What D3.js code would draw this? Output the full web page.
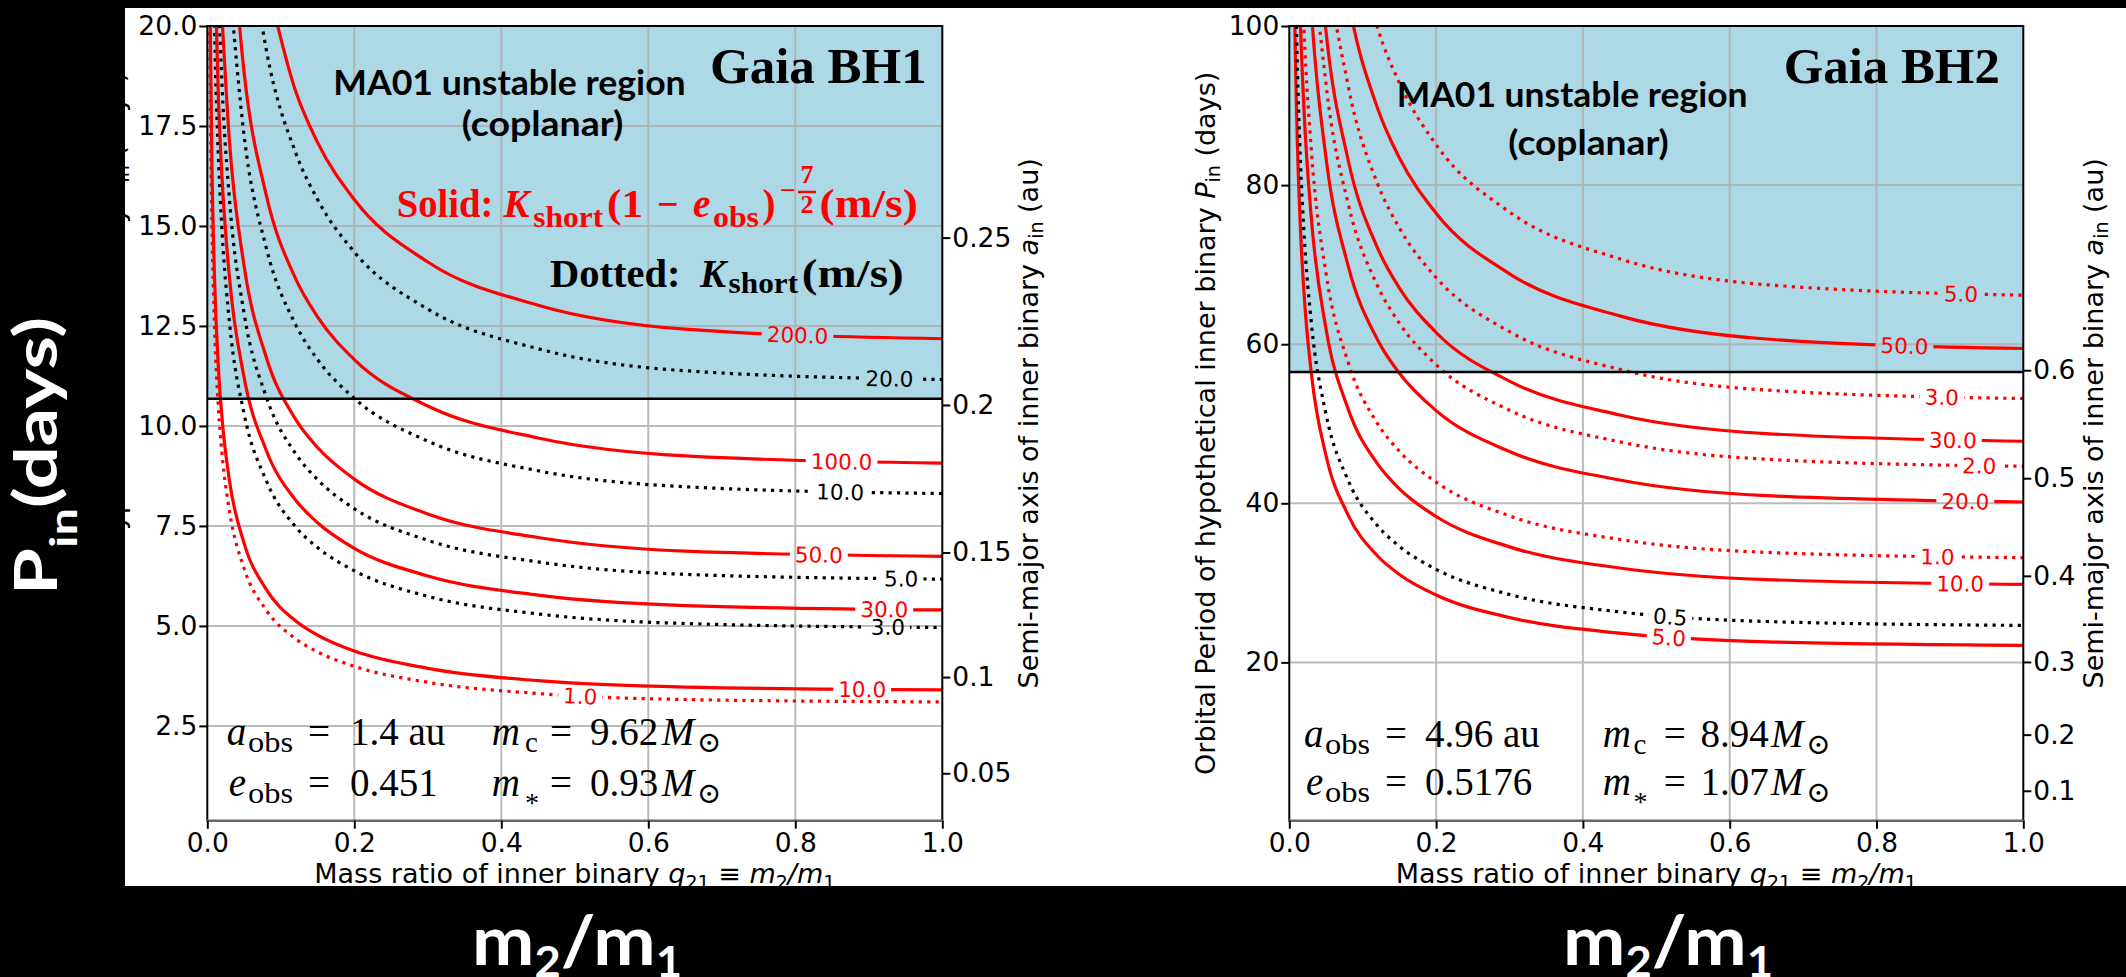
<!DOCTYPE html>
<html>
<head>
<meta charset="utf-8">
<script src="https://cdn.jsdelivr.net/npm/d3@7/dist/d3.min.js"></script>
<style>
  body { margin: 0; background: #000; }
  svg { display: block; }
</style>
</head>
<body>
<svg id="fig" width="2126" height="977"></svg>
<script>
// ---- values ----

// Gaia BH1: mass-ratio grid and P_in (days) along each contour
const bh1Q = [0.003, 0.004, 0.006, 0.01, 0.015, 0.02, 0.03, 0.05, 0.08, 0.12, 0.15, 0.2, 0.3, 0.45, 0.65, 1.0];
const bh1Dot1   = [20.69, 18.30, 15.41, 12.42, 10.48, 9.31, 7.89, 6.44, 5.40, 4.68, 4.35, 3.99, 3.59, 3.31, 3.16, 3.10];
const bh1Sol10  = [null, 20.07, 16.90, 13.62, 11.50, 10.21, 8.65, 7.07, 5.92, 5.13, 4.77, 4.37, 3.94, 3.63, 3.47, 3.40];
const bh1Dot3   = [null, null, 24.66, 19.87, 16.77, 14.89, 12.62, 10.31, 8.64, 7.48, 6.96, 6.38, 5.74, 5.30, 5.06, 4.96];
const bh1Sol30  = [null, null, null, 21.64, 18.26, 16.22, 13.74, 11.22, 9.40, 8.15, 7.58, 6.94, 6.25, 5.77, 5.51, 5.40];
const bh1Dot5   = [null, null, null, null, 20.87, 18.53, 15.70, 12.82, 10.74, 9.31, 8.66, 7.93, 7.14, 6.60, 6.29, 6.17];
const bh1Sol50  = [null, null, null, null, null, 20.24, 17.15, 14.01, 11.73, 10.17, 9.46, 8.67, 7.80, 7.21, 6.87, 6.74];
const bh1Dot10  = [null, null, null, null, null, null, 21.15, 17.27, 14.47, 12.54, 11.66, 10.69, 9.62, 8.88, 8.48, 8.31];
const bh1Sol100 = [null, null, null, null, null, null, 23.08, 18.85, 15.79, 13.69, 12.73, 11.66, 10.50, 9.70, 9.25, 9.07];
const bh1Dot20  = [null, null, null, null, null, null, null, 23.19, 19.43, 16.84, 15.66, 14.35, 12.92, 11.93, 11.38, 11.16];
const bh1Sol200 = [null, null, null, null, null, null, null, null, 21.21, 18.38, 17.09, 15.66, 14.10, 13.02, 12.42, 12.18];

// Gaia BH2
const bh2Q = [0.006, 0.008, 0.01, 0.015, 0.02, 0.03, 0.05, 0.08, 0.12, 0.15, 0.2, 0.3, 0.45, 0.65, 1.0];
const bh2Sol5  = [110.06, 97.46, 88.71, 74.88, 66.49, 56.35, 46.01, 38.55, 33.41, 31.06, 28.47, 25.64, 23.67, 22.58, 22.14];
const bh2Dot05 = [null, 108.51, 98.77, 83.37, 74.02, 62.73, 51.22, 42.92, 37.20, 34.58, 31.70, 28.54, 26.35, 25.14, 24.65];
const bh2Sol10 = [null, null, 119.45, 100.82, 89.52, 75.87, 61.95, 51.90, 44.98, 41.82, 38.34, 34.52, 31.87, 30.41, 29.81];
const bh2Dot1  = [null, null, null, 112.18, 99.61, 84.42, 68.93, 57.75, 50.05, 46.54, 42.66, 38.41, 35.46, 33.83, 33.17];
const bh2Sol20 = [null, null, null, null, 120.60, 102.21, 83.45, 69.92, 60.60, 56.34, 51.65, 46.51, 42.93, 40.96, 40.16];
const bh2Dot2  = [null, null, null, null, 134.08, 113.63, 92.78, 77.74, 67.38, 62.64, 57.42, 51.70, 47.73, 45.54, 44.65];
const bh2Sol30 = [null, null, null, null, 143.54, 121.65, 99.33, 83.22, 72.13, 67.06, 61.47, 55.35, 51.10, 48.76, 47.80];
const bh2Dot3  = [null, null, null, null, null, 135.32, 110.49, 92.57, 80.23, 74.60, 68.38, 61.57, 56.84, 54.23, 53.17];
const bh2Sol50 = [null, null, null, null, null, null, 123.56, 103.52, 89.72, 83.42, 76.47, 68.85, 63.56, 60.65, 59.46];
const bh2Dot5  = [null, null, null, null, null, null, 137.48, 115.19, 99.84, 92.82, 85.08, 76.61, 70.73, 67.48, 66.16];

// MA01 stability boundary (days) and Kepler factor P_in = k * a_in^1.5
const bh1PCrit = 10.68;
const bh2PCrit = 56.5;
const bh1Kepler = 117.67;
const bh2Kepler = 122.06;

// axes
const qTicks = [0, 0.2, 0.4, 0.6, 0.8, 1.0];
const bh1PTicks = [2.5, 5, 7.5, 10, 12.5, 15, 17.5, 20];
const bh2PTicks = [20, 40, 60, 80, 100];
const bh1ATicks = [0.05, 0.1, 0.15, 0.2, 0.25];
const bh2ATicks = [0.1, 0.2, 0.3, 0.4, 0.5, 0.6];

// inline label spots (q) for each contour, same order as the tables below
const bh1LabelQ = [0.5075, 0.891, 0.926, 0.921, 0.944, 0.832, 0.861, 0.863, 0.928, 0.803];
const bh2LabelQ = [0.517, 0.519, 0.914, 0.883, 0.921, 0.940, 0.904, 0.889, 0.838, 0.915];

const bh1Params = ['1.4', '0.451', '9.62', '0.93'];
const bh2Params = ['4.96', '0.5176', '8.94', '1.07'];

const bh1Curves = [
  { label: '1.0', dot: true, red: true, p: bh1Dot1 },
  { label: '10.0', dot: false, red: true, p: bh1Sol10 },
  { label: '3.0', dot: true, red: false, p: bh1Dot3 },
  { label: '30.0', dot: false, red: true, p: bh1Sol30 },
  { label: '5.0', dot: true, red: false, p: bh1Dot5 },
  { label: '50.0', dot: false, red: true, p: bh1Sol50 },
  { label: '10.0', dot: true, red: false, p: bh1Dot10 },
  { label: '100.0', dot: false, red: true, p: bh1Sol100 },
  { label: '20.0', dot: true, red: false, p: bh1Dot20 },
  { label: '200.0', dot: false, red: true, p: bh1Sol200 }
];
const bh2Curves = [
  { label: '5.0', dot: false, red: true, p: bh2Sol5 },
  { label: '0.5', dot: true, red: false, p: bh2Dot05 },
  { label: '10.0', dot: false, red: true, p: bh2Sol10 },
  { label: '1.0', dot: true, red: true, p: bh2Dot1 },
  { label: '20.0', dot: false, red: true, p: bh2Sol20 },
  { label: '2.0', dot: true, red: true, p: bh2Dot2 },
  { label: '30.0', dot: false, red: true, p: bh2Sol30 },
  { label: '3.0', dot: true, red: true, p: bh2Dot3 },
  { label: '50.0', dot: false, red: true, p: bh2Sol50 },
  { label: '5.0', dot: true, red: true, p: bh2Dot5 }
];

// ---- drawing ----
const W = 2126, H = 977;
const svg = d3.select('#fig');
const RED = '#ff0000';
const TICKFONT = '26.5px "DejaVu Sans"';

svg.append('rect').attr('width', W).attr('height', H).attr('fill', '#000');
svg.append('rect').attr('x', 125).attr('y', 8).attr('width', W - 125).attr('height', 878).attr('fill', '#fff');

function put(parent, s, x, y, o = {}) {
  const t = parent.append('text').attr('x', x).attr('y', y).text(s)
    .attr('fill', o.color || '#000')
    .style('font-family', o.family || '"Liberation Serif"')
    .style('font-size', (o.size || 39) + 'px')
    .style('font-weight', o.bold ? 700 : 400)
    .style('font-style', o.italic ? 'italic' : 'normal');
  if (o.w) t.attr('textLength', o.w).attr('lengthAdjust', 'spacingAndGlyphs');
  if (o.anchor) t.attr('text-anchor', o.anchor);
  return t;
}

function pointAtX(node, tx) {
  let lo = 0, hi = node.getTotalLength();
  for (let n = 0; n < 40; n++) {
    const mid = (lo + hi) / 2;
    if (node.getPointAtLength(mid).x < tx) lo = mid; else hi = mid;
  }
  return node.getPointAtLength((lo + hi) / 2);
}

function styleAxis(ax) {
  ax.select('.domain').remove();
  ax.selectAll('.tick line').attr('stroke', '#000').attr('stroke-width', 2);
  ax.selectAll('.tick text').attr('fill', '#000').style('font', TICKFONT);
}

function drawPanel(cfg) {
  const x = d3.scaleLinear().domain([0, 1]).range([cfg.left, cfg.right]);
  const y = d3.scaleLinear().domain(cfg.pDomain).range([cfg.bottom, cfg.top]);
  const aScale = d3.scalePow().exponent(1.5)
    .domain(cfg.pDomain.map(p => Math.pow(p / cfg.kepler, 2 / 3)))
    .range([cfg.bottom, cfg.top]);

  const g = svg.append('g');
  const clipId = 'clip-' + cfg.id;
  g.append('clipPath').attr('id', clipId).append('rect')
    .attr('x', cfg.left).attr('y', cfg.top)
    .attr('width', cfg.right - cfg.left).attr('height', cfg.bottom - cfg.top);

  // MA01 unstable region
  g.append('rect')
    .attr('x', x(0)).attr('y', y(cfg.pDomain[1]))
    .attr('width', x(1) - x(0)).attr('height', y(cfg.pCrit) - y(cfg.pDomain[1]))
    .attr('fill', '#add8e6');

  // grid
  const grid = g.append('g').attr('stroke', '#b0b0b0').attr('stroke-width', 2).attr('opacity', 0.85);
  grid.selectAll('line.gx').data(qTicks.slice(1, -1)).join('line').attr('class', 'gx')
    .attr('x1', d => x(d)).attr('x2', d => x(d)).attr('y1', cfg.top).attr('y2', cfg.bottom);
  grid.selectAll('line.gy').data(cfg.pTicks.filter(d => d < cfg.pDomain[1])).join('line').attr('class', 'gy')
    .attr('y1', d => y(d)).attr('y2', d => y(d)).attr('x1', cfg.left).attr('x2', cfg.right);

  // contours
  const line = d3.line()
    .defined(d => d[1] != null)
    .x(d => x(d[0]))
    .y(d => y(d[1]))
    .curve(d3.curveMonotoneX);
  const cg = g.append('g').attr('clip-path', `url(#${clipId})`);
  const lg = g.append('g');
  const defs = g.append('defs');
  cfg.curves.forEach((c, i) => {
    const color = c.red ? RED : '#000';
    const path = cg.append('path')
      .attr('d', line(cfg.q.map((q, j) => [q, c.p[j]])))
      .attr('fill', 'none')
      .attr('stroke', color)
      .attr('stroke-width', 3.2)
      .attr('stroke-dasharray', c.dot ? '3.2,5.2' : null);

    const lx = x(cfg.labelQ[i]);
    const pt = pointAtX(path.node(), lx);
    const a = pointAtX(path.node(), lx - 14), b = pointAtX(path.node(), lx + 14);
    const ang = Math.atan2(b.y - a.y, b.x - a.x) * 180 / Math.PI;
    const tf = `translate(${pt.x},${pt.y}) rotate(${ang})`;
    const t = lg.append('text').attr('transform', tf)
      .attr('text-anchor', 'middle').attr('dy', '0.36em')
      .attr('fill', color).style('font', '21.5px "DejaVu Sans"')
      .text(c.label);
    const tw = t.node().getComputedTextLength();
    const mid = `mask-${cfg.id}-${i}`;
    const m = defs.append('mask').attr('id', mid).attr('maskUnits', 'userSpaceOnUse')
      .attr('x', 0).attr('y', 0).attr('width', W).attr('height', H);
    m.append('rect').attr('width', W).attr('height', H).attr('fill', '#fff');
    m.append('rect').attr('transform', tf)
      .attr('x', -tw / 2 - 5).attr('y', -11).attr('width', tw + 10).attr('height', 22)
      .attr('fill', '#000');
    path.attr('mask', `url(#${mid})`);
  });
  lg.raise();

  // boundary line
  g.append('line')
    .attr('x1', cfg.left).attr('x2', cfg.right)
    .attr('y1', y(cfg.pCrit)).attr('y2', y(cfg.pCrit))
    .attr('stroke', '#000').attr('stroke-width', 2.6);

  // frame (bottom spine looks grey in the original)
  g.append('path')
    .attr('d', `M${cfg.left},${cfg.bottom}V${cfg.top}H${cfg.right}V${cfg.bottom}`)
    .attr('fill', 'none').attr('stroke', '#000').attr('stroke-width', 2);
  g.append('line')
    .attr('x1', cfg.left - 1).attr('x2', cfg.right + 1).attr('y1', cfg.bottom).attr('y2', cfg.bottom)
    .attr('stroke', '#666').attr('stroke-width', 2.6);

  // axes
  const axB = g.append('g').attr('transform', `translate(0,${cfg.bottom})`)
    .call(d3.axisBottom(x).tickValues(qTicks).tickFormat(d3.format('.1f')).tickSize(8).tickPadding(4.5));
  styleAxis(axB);
  const axL = g.append('g').attr('transform', `translate(${cfg.left},0)`)
    .call(d3.axisLeft(y).tickValues(cfg.pTicks).tickFormat(cfg.pFormat).tickSize(8).tickPadding(2));
  styleAxis(axL);
  const axR = g.append('g').attr('transform', `translate(${cfg.right},0)`)
    .call(d3.axisRight(aScale).tickValues(cfg.aTicks).tickFormat(d => String(d)).tickSize(8).tickPadding(2));
  styleAxis(axR);

  // axis labels
  const cx = (cfg.left + cfg.right) / 2, cy = (cfg.top + cfg.bottom) / 2;
  const xl = g.append('text').attr('x', cx).attr('y', 882.7).attr('text-anchor', 'middle')
    .attr('fill', '#000').style('font', '27px "DejaVu Sans"');
  xl.append('tspan').text('Mass ratio of inner binary ');
  xl.append('tspan').style('font-style', 'italic').text('q');
  xl.append('tspan').style('font-size', '19px').attr('dy', 6).text('21');
  xl.append('tspan').attr('dy', -6).text(' \u2261 ');
  xl.append('tspan').style('font-style', 'italic').text('m');
  xl.append('tspan').style('font-size', '19px').attr('dy', 6).text('2');
  xl.append('tspan').style('font-style', 'italic').attr('dy', -6).text('/m');
  xl.append('tspan').style('font-size', '19px').attr('dy', 6).text('1');

  const yl = g.append('text').attr('transform', `translate(${cfg.yLabelX},${cy}) rotate(-90)`)
    .attr('text-anchor', 'middle').attr('fill', '#000').style('font', '27px "DejaVu Sans"');
  yl.append('tspan').text('Orbital Period of hypothetical inner binary ');
  yl.append('tspan').style('font-style', 'italic').text('P');
  yl.append('tspan').style('font-size', '19px').attr('dy', 5).text('in');
  yl.append('tspan').attr('dy', -5).text(' (days)');

  const al = g.append('text').attr('transform', `translate(${cfg.aLabelX},${cy}) rotate(-90)`)
    .attr('text-anchor', 'middle').attr('fill', '#000').style('font', '27px "DejaVu Sans"');
  al.append('tspan').text('Semi-major axis of inner binary ');
  al.append('tspan').style('font-style', 'italic').text('a');
  al.append('tspan').style('font-size', '19px').attr('dy', 5).text('in');
  al.append('tspan').attr('dy', -5).text(' (au)');

  // annotations
  const T = cfg.text;
  put(g, 'MA01 unstable region', T.ma[0], T.ma[1], { family: 'Lato', bold: true, size: 35, w: T.ma[2] });
  put(g, '(coplanar)', T.cop[0], T.cop[1], { family: 'Lato', bold: true, size: 35, w: T.cop[2] });
  put(g, cfg.title, T.title[0], T.title[1], { bold: true, size: 51, w: T.title[2] });

  // parameters
  const P = cfg.params, X = T.px, ya = T.py[0], ye = T.py[1];
  put(g, 'a', X[0], ya, { italic: true });
  put(g, 'obs', X[1], ya + 7, { size: 29, w: 45 });
  put(g, '=', X[2], ya);
  put(g, P[0] + ' au', X[3], ya);
  put(g, 'e', X[0] + 2, ye, { italic: true });
  put(g, 'obs', X[1], ye + 7, { size: 29, w: 45 });
  put(g, '=', X[2], ye);
  put(g, P[1], X[3], ye);
  put(g, 'm', X[4], ya, { italic: true });
  put(g, 'c', X[5], ya + 7, { size: 29 });
  put(g, '=', X[6], ya);
  put(g, P[2], X[7], ya);
  put(g, 'M', X[8], ya, { italic: true });
  put(g, '\u2299', X[9], ya + 7, { size: 29, family: '"DejaVu Serif"' });
  put(g, 'm', X[4], ye, { italic: true });
  put(g, '*', X[5], ye + 16, { size: 28 });
  put(g, '=', X[6], ye);
  put(g, P[3], X[7], ye);
  put(g, 'M', X[8], ye, { italic: true });
  put(g, '\u2299', X[9], ye + 7, { size: 29, family: '"DejaVu Serif"' });

  return g;
}

const g1 = drawPanel({
  id: 'bh1', left: 207.3, right: 942.3, top: 26, bottom: 820.7,
  pDomain: [0.13, 20], pTicks: bh1PTicks, pFormat: d3.format('.1f'),
  aTicks: bh1ATicks, kepler: bh1Kepler, pCrit: bh1PCrit,
  q: bh1Q, curves: bh1Curves, labelQ: bh1LabelQ,
  yLabelX: 123.7, aLabelX: 1038,
  title: 'Gaia BH1', params: bh1Params,
  text: {
    ma: [333.3, 95, 352.4], cop: [461.7, 136, 161.5], title: [710, 83.3, 216.8],
    px: [226.7, 248, 308, 350, 491.7, 525, 550, 590, 661.7, 697], py: [745, 796]
  }
});

const g2 = drawPanel({
  id: 'bh2', left: 1289.3, right: 2023.3, top: 26, bottom: 820.7,
  pDomain: [0.1, 100], pTicks: bh2PTicks, pFormat: d3.format('d'),
  aTicks: bh2ATicks, kepler: bh2Kepler, pCrit: bh2PCrit,
  q: bh2Q, curves: bh2Curves, labelQ: bh2LabelQ,
  yLabelX: 1215, aLabelX: 2103,
  title: 'Gaia BH2', params: bh2Params,
  text: {
    ma: [1396.7, 106.7, 350.9], cop: [1508.3, 155, 160.5], title: [1783.8, 83.3, 216],
    px: [1304, 1325, 1385, 1425, 1602.7, 1633.5, 1663.7, 1700.6, 1771, 1806.3], py: [746.7, 795]
  }
});

// legend lines (BH1 only)
put(g1, 'Solid:', 396.7, 216.7, { bold: true, color: RED, w: 96.6 });
put(g1, 'K', 503.6, 216.7, { bold: true, italic: true, color: RED });
put(g1, 'short', 533.3, 226.7, { bold: true, size: 29, color: RED, w: 70 });
put(g1, '(1', 607, 216.7, { bold: true, color: RED, w: 36 });
put(g1, '\u2212', 657, 216.7, { bold: true, color: RED, w: 21.6 });
put(g1, 'e', 692.9, 216.7, { bold: true, italic: true, color: RED });
put(g1, 'obs', 713, 226.7, { bold: true, size: 29, color: RED, w: 46 });
put(g1, ')', 762.5, 216.7, { bold: true, color: RED });
put(g1, '\u2212', 780, 198.5, { bold: true, size: 26, color: RED, w: 16 });
put(g1, '7', 807, 183, { bold: true, size: 26, color: RED, anchor: 'middle' });
put(g1, '2', 807, 213, { bold: true, size: 26, color: RED, anchor: 'middle' });
g1.append('line').attr('x1', 798).attr('x2', 816).attr('y1', 192).attr('y2', 192)
  .attr('stroke', RED).attr('stroke-width', 2.5);
put(g1, '(m/s)', 819.6, 216.7, { bold: true, color: RED, w: 98.3 });

put(g1, 'Dotted:', 550, 286.7, { bold: true, w: 130.4 });
put(g1, 'K', 700, 286.7, { bold: true, italic: true });
put(g1, 'short', 728.6, 293.3, { bold: true, size: 29, w: 69.6 });
put(g1, '(m/s)', 801.8, 286.7, { bold: true, w: 101.8 });

// black overlay with the large white annotations
svg.append('rect').attr('x', 0).attr('y', 0).attr('width', 125).attr('height', H).attr('fill', '#000');
svg.append('rect').attr('x', 0).attr('y', 886).attr('width', W).attr('height', H - 886).attr('fill', '#000');
svg.append('rect').attr('x', 0).attr('y', 0).attr('width', W).attr('height', 8).attr('fill', '#000');

const pin = svg.append('text').attr('transform', 'translate(57,595) rotate(-90)')
  .attr('fill', '#fff').style('font-family', 'Lato').style('font-weight', 700).style('font-size', '59px')
  .attr('textLength', 278).attr('lengthAdjust', 'spacingAndGlyphs');
pin.append('tspan').text('P');
pin.append('tspan').style('font-size', '38px').attr('dy', 20).text('in');
pin.append('tspan').attr('dy', -20).text('(days)');

[472, 1563].forEach(x0 => {
  const t = svg.append('text').attr('x', x0).attr('y', 965)
    .attr('fill', '#fff').style('font-family', 'Lato').style('font-weight', 700).style('font-size', '69px')
    .attr('textLength', 210).attr('lengthAdjust', 'spacingAndGlyphs');
  t.append('tspan').text('m');
  t.append('tspan').style('font-size', '42px').attr('dy', 12).text('2');
  t.append('tspan').attr('dy', -12).text('/');
  t.append('tspan').text('m');
  t.append('tspan').style('font-size', '42px').attr('dy', 12).text('1');
});
</script>
</body>
</html>
